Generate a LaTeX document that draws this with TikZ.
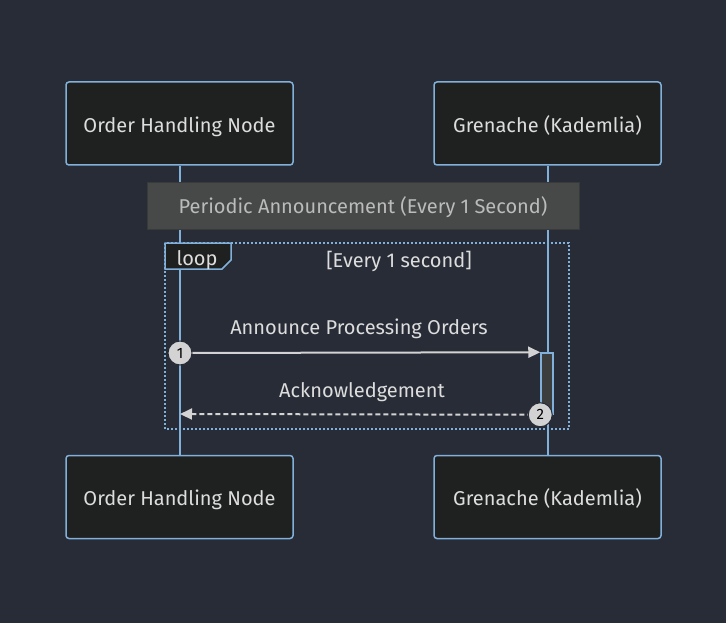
\documentclass[tikz,border=0pt]{standalone}
\usepackage{fontspec}
\setmainfont{Fira Sans}
\usetikzlibrary{arrows.meta}
\definecolor{bg}{HTML}{282C37}
\definecolor{boxfill}{HTML}{1F2020}
\definecolor{edge}{HTML}{81B1DB}
\definecolor{txt}{HTML}{DDDDDD}
\definecolor{notefill}{HTML}{474949}
\definecolor{notetxt}{HTML}{BBBBBB}
\definecolor{msg}{HTML}{D3D3D3}
\begin{document}
\begin{tikzpicture}[x=1pt,y=-1pt,
  actor/.style={draw=edge,fill=boxfill,rounded corners=3pt,line width=1.5pt,minimum width=227pt,minimum height=83pt,text=txt,font=\fontsize{20}{24}\selectfont,inner sep=0pt,text height=19pt,text depth=1.5pt},
  life/.style={draw=edge,line width=2pt},
  lbl/.style={text=txt,font=\fontsize{20}{24}\selectfont,inner sep=0pt},
  seqnum/.style={circle,fill=msg,draw=bg,line width=1pt,minimum size=24pt,inner sep=0pt,text=black,font=\fontsize{15}{18}\selectfont},
  msgline/.style={draw=msg,line width=2pt,-{Triangle[length=12pt,width=11pt]}}
]
\useasboundingbox[fill=bg] (0,0) rectangle (726,623);
% actors
\node[actor] (a1) at (179.5,123.5) {Order Handling Node};
\node[actor] (b1) at (547.5,123.5) {Grenache (Kademlia)};
\node[actor] (a2) at (179.5,497) {Order Handling Node};
\node[actor] (b2) at (547.5,497) {Grenache (Kademlia)};
% lifelines
\draw[life] (a1.south) -- (a2.north);
\draw[life] (b1.south) -- (b2.north);
% note
\node[draw=notefill!80!black,fill=notefill,minimum width=432pt,minimum height=47pt,inner sep=0pt,text=notetxt,font=\fontsize{20}{24}\selectfont,text height=17pt,text depth=2pt] (note) at (363,205.5) {Periodic Announcement (Every 1 Second)};
% loop frame
\coordinate (lf1) at (165,243);
\coordinate (lf2) at (569,429);
\draw[edge,line width=2pt,dash pattern=on 2pt off 2pt] (lf1) rectangle (lf2);
\draw[edge,line width=1.5pt,fill=boxfill] (165,243) -- (231,243) -- (231,260) -- (222,269) -- (165,269) -- cycle;
\node[lbl] (looplbl) at (197,260.5) {loop};
\node[lbl] (cond) at (399,261.5) {[Every 1 second]};
% activation
\node[draw=edge,fill=notefill!85!black,line width=1.5pt,minimum width=12pt,minimum height=61pt,inner sep=0pt] (act) at (547,383.5) {};
% messages
\coordinate (m1s) at (180,353);
\coordinate (m2e) at (180,414);
\draw[msgline] (m1s) -- (act.north west);
\node[lbl] (m1) at (359,329) {Announce Processing Orders};
\draw[msgline,dash pattern=on 5pt off 3pt] (act.south west) -- (m2e);
\node[lbl] (m2) at (362,392) {Acknowledgement};
\node[seqnum] (n1) at (m1s) {1};
\node[seqnum] (n2) at (act.south west) {2};
\end{tikzpicture}
\end{document}
